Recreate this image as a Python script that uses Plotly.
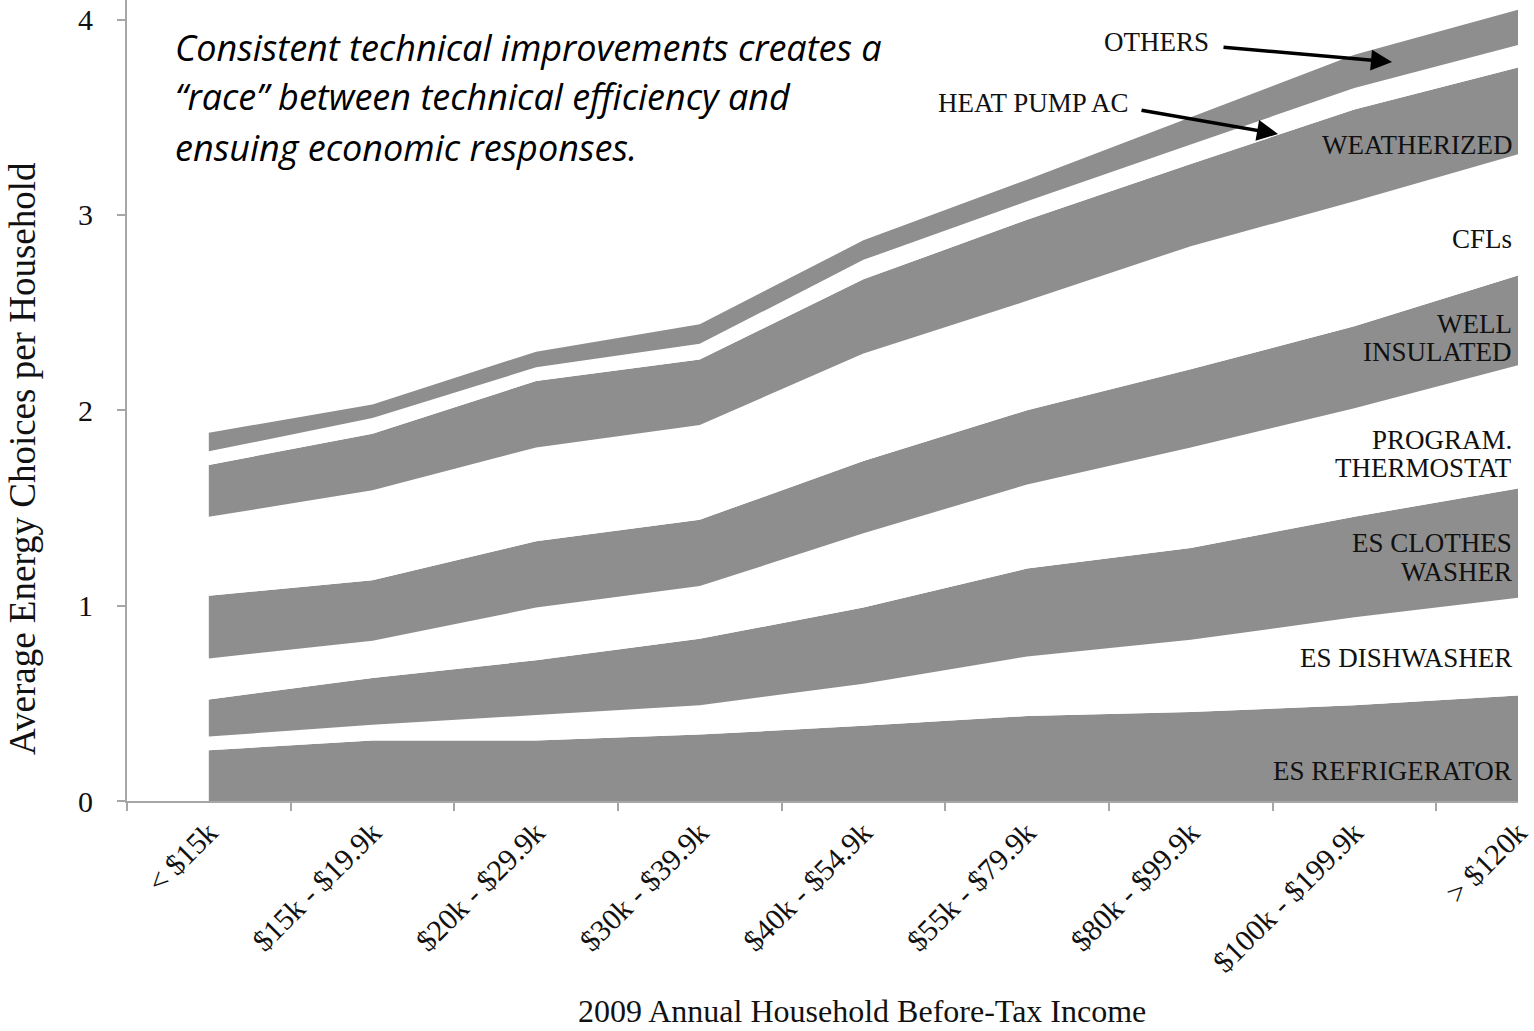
import plotly.graph_objects as go

# Income brackets (2009 annual household before-tax income)
income_brackets = ["< $15k", "$15k - $19.9k", "$20k - $29.9k", "$30k - $39.9k",
                   "$40k - $54.9k", "$55k - $79.9k", "$80k - $99.9k",
                   "$100k - $199.9k", "> $120k"]

# Average number of each energy choice per household, stacked bottom to top
es_refrigerator = [0.26, 0.31, 0.31, 0.34, 0.385, 0.435, 0.455, 0.49, 0.54]
es_dishwasher = [0.07, 0.08, 0.13, 0.15, 0.215, 0.305, 0.37, 0.45, 0.50]
es_clothes_washer = [0.19, 0.24, 0.28, 0.34, 0.39, 0.45, 0.47, 0.515, 0.56]
program_thermostat = [0.21, 0.19, 0.27, 0.27, 0.38, 0.43, 0.515, 0.555, 0.63]
well_insulated = [0.32, 0.31, 0.34, 0.34, 0.37, 0.38, 0.40, 0.42, 0.46]
cfls = [0.405, 0.46, 0.48, 0.485, 0.55, 0.56, 0.63, 0.64, 0.62]
weatherized = [0.265, 0.29, 0.34, 0.335, 0.38, 0.415, 0.42, 0.47, 0.445]
heat_pump_ac = [0.07, 0.08, 0.07, 0.08, 0.10, 0.095, 0.10, 0.11, 0.115]
others = [0.095, 0.07, 0.08, 0.10, 0.10, 0.11, 0.14, 0.17, 0.18]

y_ticks = [0, 1, 2, 3, 4]

GRAY = "#8e8e8e"
WHITE = "#ffffff"
AXIS = "#a6a6a6"
SERIF = "Liberation Serif, DejaVu Serif, serif"
TEXT = "#111111"

series = [
    ("ES REFRIGERATOR", es_refrigerator, GRAY),
    ("ES DISHWASHER", es_dishwasher, WHITE),
    ("ES CLOTHES WASHER", es_clothes_washer, GRAY),
    ("PROGRAM. THERMOSTAT", program_thermostat, WHITE),
    ("WELL INSULATED", well_insulated, GRAY),
    ("CFLs", cfls, WHITE),
    ("WEATHERIZED", weatherized, GRAY),
    ("HEAT PUMP AC", heat_pump_ac, WHITE),
    ("OTHERS", others, GRAY),
]

fig = go.Figure()
for name, vals, color in series:
    fig.add_trace(go.Scatter(
        x=income_brackets, y=vals, name=name, mode="lines",
        stackgroup="choices", line=dict(width=0, color=color),
        fillcolor=color, hoverinfo="x+y+name",
    ))

W, H = 1534, 1031
L, R, T, B = 127, 16, 0, 230
PW, PH = W - L - R, H - T - B


def px(x):
    return (x - L) / PW


def py(y):
    return (H - B - y) / PH


annotations = []

# Band labels along the right edge (one entry per text line)
band_labels = [
    ("WEATHERIZED", 145),
    ("CFLs", 239),
    ("WELL", 324),
    ("INSULATED", 352),
    ("PROGRAM.", 440),
    ("THERMOSTAT", 468),
    ("ES CLOTHES", 543),
    ("WASHER", 572),
    ("ES DISHWASHER", 658),
    ("ES REFRIGERATOR", 771),
]
for text, ypix in band_labels:
    annotations.append(dict(
        text=text, xref="paper", yref="paper", x=px(1514), y=py(ypix),
        xanchor="right", yanchor="middle", align="right", showarrow=False,
        font=dict(family=SERIF, size=27, color=TEXT),
    ))

# Labels for the thin top bands, with arrows
for text, cx, cy in [("OTHERS", 1156, 42), ("HEAT PUMP AC", 1033, 103)]:
    annotations.append(dict(
        text=text, xref="paper", yref="paper", x=px(cx), y=py(cy),
        xanchor="center", yanchor="middle", showarrow=False,
        font=dict(family=SERIF, size=27, color=TEXT),
    ))
for tail, head in [((1222, 47), (1392, 62)), ((1140, 110), (1278, 134))]:
    annotations.append(dict(
        text="", xref="paper", yref="paper", x=px(head[0]), y=py(head[1]),
        axref="pixel", ayref="pixel", ax=tail[0] - head[0], ay=tail[1] - head[1],
        showarrow=True, arrowhead=2, arrowsize=1.2, arrowwidth=3.5,
        arrowcolor="#000000",
    ))

# Headline text
headline = [
    "Consistent technical improvements creates a",
    "\u201crace\u201d between technical efficiency and",
    "ensuing economic responses.",
]
for i, line in enumerate(headline):
    annotations.append(dict(
        text=f"<i>{line}</i>", xref="paper", yref="paper",
        x=px(173), y=py(47 + 50 * i), xanchor="left", yanchor="middle",
        showarrow=False, font=dict(family="Open Sans, Lato, sans-serif", size=36,
                                   color="#000000"),
    ))

# Axis titles
annotations.append(dict(
    text="2009 Annual Household Before-Tax Income", xref="paper", yref="paper",
    x=px(862), y=py(1011), xanchor="center", yanchor="middle", showarrow=False,
    font=dict(family=SERIF, size=32, color=TEXT),
))
annotations.append(dict(
    text="Average Energy Choices per Household", xref="paper", yref="paper",
    x=px(22), y=py(459), xanchor="center", yanchor="middle", showarrow=False,
    textangle=-90, font=dict(family=SERIF, size=37, color=TEXT),
))

fig.update_layout(
    width=W, height=H,
    margin=dict(l=L, r=R, t=T, b=B),
    paper_bgcolor="white", plot_bgcolor="white",
    showlegend=False,
    annotations=annotations,
)
fig.update_xaxes(
    type="category", range=[-0.5, 8.0], tickson="boundaries",
    ticks="outside", ticklen=8, tickwidth=2, tickcolor=AXIS,
    showline=True, linecolor=AXIS, linewidth=2, showgrid=False,
    tickangle=-45, tickfont=dict(family=SERIF, size=30, color=TEXT),
)
fig.update_yaxes(
    range=[0, 4.1], tickvals=y_ticks, ticks="outside", ticklen=8,
    tickwidth=2, tickcolor=AXIS, showline=True, linecolor=AXIS, linewidth=2,
    showgrid=False, zeroline=False, ticklabelstandoff=18,
    tickfont=dict(family=SERIF, size=30, color=TEXT),
)

fig.write_html("out.html")
